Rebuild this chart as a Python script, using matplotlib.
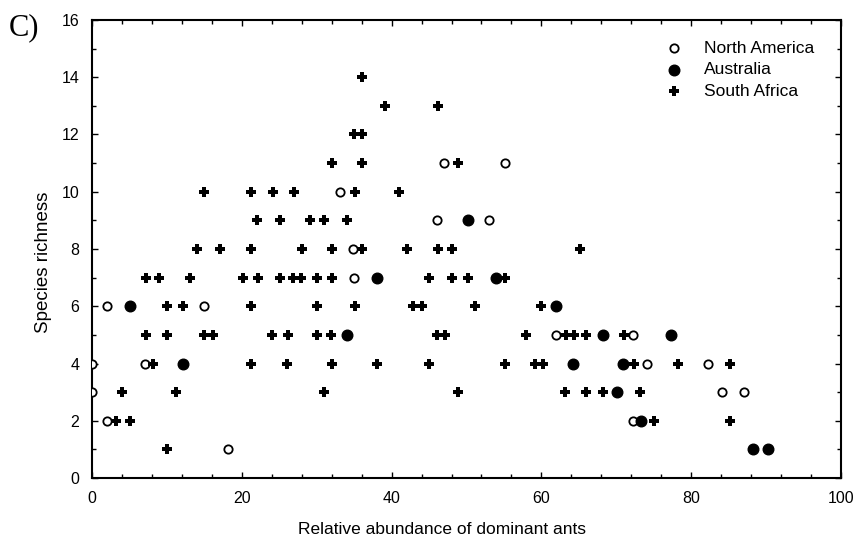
import matplotlib
matplotlib.use("Agg")
import matplotlib.pyplot as plt
from matplotlib.ticker import MultipleLocator

plt.rcParams['font.family'] = ['Liberation Sans', 'DejaVu Sans']

# North America (open circles)
na_x = [0, 0, 2.0, 2.0, 7.1, 15.0, 18.1, 33.1, 34.9, 35.0, 46.1, 47.0, 53.0, 55.2,
        61.9, 72.2, 72.2, 74.1, 82.2, 84.1, 87.1]
na_y = [4, 3, 6, 2, 4, 6, 1, 10, 8, 7, 9, 11, 9, 11,
        5, 5, 2, 4, 4, 3, 3]

# Australia (filled circles)
au_x = [5.1, 12.2, 34.1, 38.1, 50.2, 53.9, 62.0, 64.2, 68.2, 70.1, 70.9, 73.3, 77.3, 88.2, 90.2]
au_y = [6, 4, 5, 7, 9, 7, 6, 4, 5, 3, 4, 2, 5, 1, 1]

# South Africa (plus)
sa_x = [36.1,
        39.1, 46.2,
        35.0, 36.1,
        32.0, 36.1, 48.9,
        15.0, 21.2, 24.2, 27.0, 35.1, 41.0,
        22.0, 25.1, 29.1, 31.0, 34.1,
        14.0, 17.1, 21.2, 28.0, 32.0, 36.1, 42.1, 46.2, 48.0, 65.1,
        7.2, 9.0, 13.1, 20.2, 22.1, 25.1, 26.8, 27.9, 30.1, 32.0, 45.0, 48.0, 50.2, 55.2,
        10.0, 12.2, 21.2, 30.1, 35.1, 42.9, 44.1, 51.1, 60.0,
        7.2, 10.0, 15.0, 16.2, 24.1, 26.2, 30.1, 31.9, 46.0, 47.1, 58.0, 63.3, 64.3, 66.0, 71.0,
        8.2, 21.2, 26.1, 32.0, 38.1, 45.0, 55.2, 59.1, 60.2, 72.3, 78.2, 85.2,
        4.0, 11.2, 31.0, 48.9, 63.2, 66.0, 68.2, 73.1,
        3.2, 5.1, 75.0, 85.2,
        10.0]
sa_y = [14,
        13, 13,
        12, 12,
        11, 11, 11,
        10, 10, 10, 10, 10, 10,
        9, 9, 9, 9, 9,
        8, 8, 8, 8, 8, 8, 8, 8, 8, 8,
        7, 7, 7, 7, 7, 7, 7, 7, 7, 7, 7, 7, 7, 7,
        6, 6, 6, 6, 6, 6, 6, 6, 6,
        5, 5, 5, 5, 5, 5, 5, 5, 5, 5, 5, 5, 5, 5, 5,
        4, 4, 4, 4, 4, 4, 4, 4, 4, 4, 4, 4,
        3, 3, 3, 3, 3, 3, 3, 3,
        2, 2, 2, 2,
        1]

fig = plt.figure(figsize=(8.58, 5.46), dpi=100)
ax = fig.add_axes([0.1072, 0.1245, 0.8730, 0.8389])

ax.scatter(na_x, na_y, s=36, marker='o', facecolors='white', edgecolors='black',
           linewidths=1.3, label='North America', zorder=3)
ax.scatter(au_x, au_y, s=58, marker='o', color='black', label='Australia', zorder=4)
ax.scatter(sa_x, sa_y, s=60, marker='P', color='black', linewidths=0, label='South Africa', zorder=5)

ax.set_xlim(0, 100)
ax.set_ylim(0, 16)
ax.xaxis.set_major_locator(MultipleLocator(20))
ax.xaxis.set_minor_locator(MultipleLocator(4))
ax.yaxis.set_major_locator(MultipleLocator(2))
ax.yaxis.set_minor_locator(MultipleLocator(1))
ax.tick_params(which='both', direction='in', top=True, right=True, labelsize=11.5, width=1)
ax.tick_params(which='major', length=4, pad=9)
ax.tick_params(which='minor', length=3)
for sp in ax.spines.values():
    sp.set_linewidth(1.5)

ax.set_xlabel('Relative abundance of dominant ants', fontsize=12.5)
ax.set_ylabel('Species richness', fontsize=13.5)
ax.xaxis.set_label_coords(0.467, -0.097)
ax.yaxis.set_label_coords(-0.053, 0.472)

ax.legend(loc='upper left', bbox_to_anchor=(0.744, 0.970), frameon=False, fontsize=12.5,
          handletextpad=0.75, labelspacing=0.37, borderaxespad=0, scatterpoints=1)

fig.text(0.0105, 0.936, 'C)', family=['Liberation Serif', 'DejaVu Serif'], fontsize=22)

fig.savefig('out.png', dpi=100)
